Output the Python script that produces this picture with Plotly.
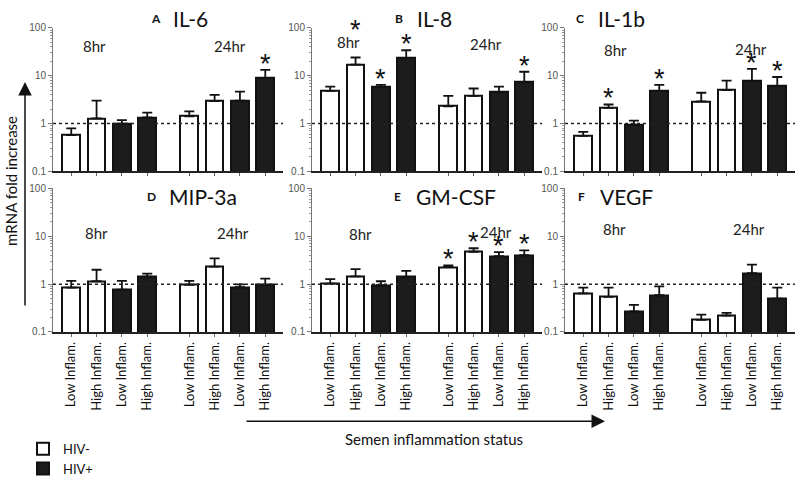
import math
import plotly.graph_objects as go

W, H = 797, 484

# ---------------- data ----------------
positions = [0, 1, 2, 3, 4.66, 5.66, 6.66, 7.66]
cat_labels = ["Low Inflam.", "High Inflam.", "Low Inflam.", "High Inflam.",
              "Low Inflam.", "High Inflam.", "Low Inflam.", "High Inflam."]
hiv_status = ["HIV-", "HIV-", "HIV+", "HIV+", "HIV-", "HIV-", "HIV+", "HIV+"]
time_labels = ["8hr", "24hr"]

panel_letters = ["A", "B", "C", "D", "E", "F"]
panel_names = ["IL-6", "IL-8", "IL-1b", "MIP-3a", "GM-CSF", "VEGF"]

il6_mean = [0.57, 1.28, 0.99, 1.34, 1.42, 2.93, 3.02, 8.85]
il6_sem = [0.22, 1.74, 0.19, 0.35, 0.37, 1.05, 1.62, 4.35]
il6_sig = [0, 0, 0, 0, 0, 0, 0, 1]

il8_mean = [4.8, 17.0, 5.8, 23.3, 2.3, 3.8, 4.5, 7.4]
il8_sem = [1.1, 7.0, 0.6, 10.7, 1.5, 1.6, 1.4, 4.7]
il8_sig = [0, 1, 1, 1, 0, 0, 0, 1]

il1b_mean = [0.55, 2.12, 0.95, 4.8, 2.9, 5.0, 7.7, 6.1]
il1b_sem = [0.12, 0.38, 0.2, 1.6, 1.5, 2.9, 6.2, 3.3]
il1b_sig = [0, 1, 0, 1, 0, 0, 1, 1]

mip3a_mean = [0.85, 1.15, 0.77, 1.44, 0.97, 2.32, 0.87, 0.97]
mip3a_sem = [0.32, 0.85, 0.40, 0.22, 0.20, 1.13, 0.12, 0.33]
mip3a_sig = [0, 0, 0, 0, 0, 0, 0, 0]

gmcsf_mean = [1.03, 1.46, 0.95, 1.42, 2.27, 4.76, 3.85, 4.03]
gmcsf_sem = [0.24, 0.61, 0.20, 0.47, 0.21, 0.87, 0.84, 1.03]
gmcsf_sig = [0, 0, 0, 0, 1, 1, 1, 1]

vegf_mean = [0.64, 0.54, 0.27, 0.59, 0.18, 0.22, 1.69, 0.50]
vegf_sem = [0.21, 0.31, 0.10, 0.31, 0.05, 0.03, 0.86, 0.35]
vegf_sig = [0, 0, 0, 0, 0, 0, 0, 0]

means = [il6_mean, il8_mean, il1b_mean, mip3a_mean, gmcsf_mean, vegf_mean]
sems = [il6_sem, il8_sem, il1b_sem, mip3a_sem, gmcsf_sem, vegf_sem]
sigs = [il6_sig, il8_sig, il1b_sig, mip3a_sig, gmcsf_sig, vegf_sig]

# ---------------- layout helpers ----------------
FONT = "Lato, 'Open Sans', sans-serif"
col_left = [53, 312, 565]
col_width = 230
row_top = [23, 192]
row_height = 151
xrange_ = [-0.72, 8.36]

# text positions (pixels) for panel letters/titles, time labels
title_pos = [(149, 13), (393, 13), (574, 13), (145, 200), (392, 200), (576, 200)]
time_pos = [[(94, 42), (230, 42)], [(348, 38), (486, 40)], [(615, 46), (751, 45)],
            [(96, 239), (233, 239)], [(360, 240), (496, 238)], [(614, 235), (749, 235)]]
star_extra = {(1, 1): 22}


def px(x):
    return x / W


def py(y):
    return 1 - y / H


fig = go.Figure()
annotations = []
shapes = []

for i in range(6):
    r, c = divmod(i, 3)
    ax_id = "" if i == 0 else str(i + 1)
    xa, ya = "x" + ax_id, "y" + ax_id
    for grp, fill in (("HIV-", "white"), ("HIV+", "#1c1c1c")):
        idx = [k for k in range(8) if hiv_status[k] == grp]
        fig.add_trace(go.Bar(
            x=[positions[k] for k in idx],
            y=[means[i][k] for k in idx],
            error_y=dict(type="data", symmetric=False,
                         array=[sems[i][k] for k in idx],
                         arrayminus=[0] * len(idx),
                         color="#111", thickness=1.8, width=5),
            width=0.7,
            marker=dict(color=fill, line=dict(color="#111", width=2)),
            name=grp, showlegend=(i == 0), legendgroup=grp,
            xaxis=xa, yaxis=ya,
        ))
    x0 = col_left[c]
    y0 = row_top[r]
    fig.layout["xaxis" + ax_id] = dict(
        domain=[px(x0), px(x0 + col_width)], range=xrange_,
        anchor=ya, tickmode="array", tickvals=positions, ticktext=cat_labels,
        showticklabels=(r == 1), tickangle=-90,
        tickfont=dict(family=FONT, size=13, color="#111"),
        ticks="outside", ticklen=3, tickcolor="#666", tickwidth=1,
        showline=True, linecolor="#222", linewidth=1.5,
        showgrid=False, zeroline=False, fixedrange=True,
    )
    fig.layout["yaxis" + ax_id] = dict(
        domain=[py(y0 + row_height), py(y0)], type="log", range=[-1, 2],
        anchor=xa, tickmode="linear", tick0=0, dtick=1,
        tickfont=dict(family="Liberation Sans, Arial", size=10, color="#555"),
        ticks="outside", ticklen=4, tickcolor="#777",
        minor=dict(ticks="outside", ticklen=2, tickcolor="#999", dtick="D1"),
        showline=True, linecolor="#777", linewidth=1,
        showgrid=False, zeroline=False, fixedrange=True,
    )
    # reference line at fold change 1
    shapes.append(dict(type="line", xref=xa, yref=ya, x0=xrange_[0], x1=xrange_[1],
                       y0=1, y1=1, line=dict(color="#222", width=1.5, dash="dot")))
    # titles
    tx, ty = title_pos[i]
    annotations.append(dict(xref="paper", yref="paper", x=px(tx), y=py(ty),
                            xanchor="left", yanchor="middle", showarrow=False,
                            text="<b>" + panel_letters[i] + "</b>",
                            font=dict(family=FONT, size=12, color="#111")))
    annotations.append(dict(xref="paper", yref="paper", x=px(tx + 22), y=py(ty),
                            xanchor="left", yanchor="middle", showarrow=False,
                            text=panel_names[i],
                            font=dict(family=FONT, size=21, color="#111")))
    for t in range(2):
        lx, ly = time_pos[i][t]
        annotations.append(dict(xref="paper", yref="paper", x=px(lx), y=py(ly),
                                xanchor="center", yanchor="middle", showarrow=False,
                                text=time_labels[t],
                                font=dict(family=FONT, size=15, color="#222")))
    # significance stars
    for k in range(8):
        if sigs[i][k]:
            annotations.append(dict(xref=xa, yref=ya, x=positions[k],
                                    y=math.log10(means[i][k] + sems[i][k]),
                                    xanchor="center", yanchor="middle", showarrow=False,
                                    yshift=6 + star_extra.get((i, k), 0), text="*",
                                    font=dict(family="Liberation Sans, Arial", size=27,
                                              color="#111")))

# axis titles with arrows
annotations.append(dict(xref="paper", yref="paper", x=px(25), y=py(80),
                        ax=0, ay=225, showarrow=True, arrowhead=2, arrowsize=1.8,
                        arrowwidth=1.5, arrowcolor="#111", text=""))
annotations.append(dict(xref="paper", yref="paper", x=px(11), y=py(184),
                        xanchor="center", yanchor="middle",
                        textangle=-90, showarrow=False, text="mRNA fold increase",
                        font=dict(family=FONT, size=15, color="#111")))
annotations.append(dict(xref="paper", yref="paper", x=px(605), y=py(437),
                        ax=-360, ay=0, showarrow=True, arrowhead=2, arrowsize=1.8,
                        arrowwidth=1.5, arrowcolor="#111", text=""))
annotations.append(dict(xref="paper", yref="paper", x=px(434), y=py(456),
                        xanchor="center", yanchor="middle",
                        showarrow=False, text="Semen inflammation status",
                        font=dict(family=FONT, size=15, color="#111")))

fig.update_layout(
    width=W, height=H, margin=dict(l=0, r=0, t=0, b=0),
    paper_bgcolor="white", plot_bgcolor="white",
    barmode="overlay", bargap=0,
    annotations=annotations, shapes=shapes,
    legend=dict(x=px(23), y=py(450), xanchor="left", yanchor="top",
                font=dict(family=FONT, size=13, color="#111"),
                tracegroupgap=0, itemwidth=30, bgcolor="rgba(0,0,0,0)"),
    showlegend=True,
)

fig.write_html("out.html", config={"displayModeBar": False},
               post_script="document.body.style.margin='0';document.body.style.overflow='hidden';")
